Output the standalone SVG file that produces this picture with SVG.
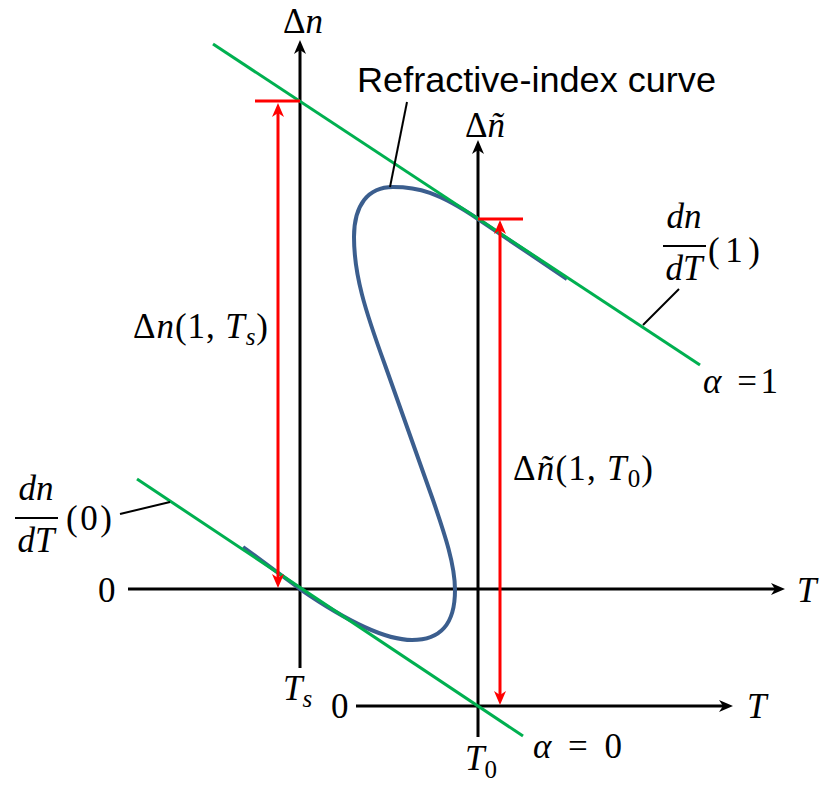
<svg xmlns="http://www.w3.org/2000/svg" width="820" height="791" viewBox="0 0 820 791">
<style>
.ax{stroke:#000;stroke-width:3;fill:none}
.gr{stroke:#00B050;stroke-width:3;fill:none}
.rd{stroke:#FF0000;stroke-width:3;fill:none}
.cv{stroke:#3B5E8E;stroke-width:4;fill:none;stroke-linejoin:round}
.ld{stroke:#000;stroke-width:2;fill:none}
.m{font-family:"Liberation Serif","DejaVu Serif",serif;font-size:35px;fill:#000}
.i{font-style:italic}
.s{font-family:"Liberation Sans",Arial,sans-serif;font-size:35px;fill:#000}
</style>
<defs>
<marker id="ab" viewBox="0 0 14 12" markerWidth="14" markerHeight="12" refX="6" refY="6" orient="auto" markerUnits="userSpaceOnUse"><path d="M0,0 L14,6 L0,12 L4,6 z" fill="#000"/></marker>
<marker id="ar" viewBox="0 0 14 12" markerWidth="14" markerHeight="12" refX="6" refY="6" orient="auto-start-reverse" markerUnits="userSpaceOnUse"><path d="M0,0 L14,6 L0,12 L4,6 z" fill="#FF0000"/></marker>
</defs>
<rect width="820" height="791" fill="#fff"/>

<g id="axis-dn">
<line class="ax" x1="300" y1="668" x2="300" y2="48" marker-end="url(#ab)"/>
<text class="m" x="283" y="33" font-size="31">Δ<tspan class="i">n</tspan></text>
</g>
<g id="axis-T-main">
<line class="ax" x1="128" y1="589" x2="777" y2="589" marker-end="url(#ab)"/>
<text class="m" x="98" y="602">0</text>
<text class="m i" x="797" y="602">T</text>
<text class="m i" x="283" y="700">T<tspan font-size="25" dy="7">s</tspan></text>
</g>
<g id="axis-dn-tilde">
<line class="ax" x1="478" y1="737" x2="478" y2="148" marker-end="url(#ab)"/>
<text class="m" x="465" y="137" font-size="31">Δ<tspan class="i">ñ</tspan></text>
</g>
<g id="axis-T-second">
<line class="ax" x1="356" y1="706" x2="725" y2="706" marker-end="url(#ab)"/>
<text class="m" x="331" y="718">0</text>
<text class="m i" x="747" y="718">T</text>
<text class="m i" x="465" y="770">T<tspan font-size="25" dy="8" font-style="normal">0</tspan></text>
</g>

<g id="refractive-index-curve">
<path class="cv" d="M567,279 L478,219 C438,192 418,187 393,187 C368,187 354,205 354,237 C354,275 365,310 385,365 L433,500 C445,535 455,565 455,590 C455,625 440,640 412,640 C385,640 345,620 300,589 L243,547"/>
<text class="s" x="357" y="92" textLength="359" lengthAdjust="spacingAndGlyphs">Refractive-index curve</text>
</g>

<g id="tangent-alpha1">
<line class="gr" x1="213" y1="44" x2="700" y2="365"/>
<text class="m" x="703" y="393" textLength="75"><tspan class="i">α</tspan> =1</text>
</g>
<g id="tangent-alpha0">
<line class="gr" x1="137" y1="479" x2="523" y2="736"/>
<text class="m" x="533" y="758" textLength="89"><tspan class="i">α</tspan> = 0</text>
</g>

<g id="label-dndT1">
<text class="m i" x="684" y="228" text-anchor="middle">dn</text>
<line x1="663" y1="246" x2="706" y2="246" stroke="#000" stroke-width="2"/>
<text class="m i" x="684" y="280" text-anchor="middle">dT</text>
<text class="m" x="708" y="262" textLength="52">(1)</text>
</g>
<g id="label-dndT0">
<text class="m i" x="36" y="500" text-anchor="middle">dn</text>
<line x1="15" y1="518" x2="58" y2="518" stroke="#000" stroke-width="2"/>
<text class="m i" x="36" y="552" text-anchor="middle">dT</text>
<text class="m" x="66" y="530" textLength="46">(0)</text>
</g>
<g id="label-dn1Ts">
<text class="m" x="133" y="338" textLength="135">Δ<tspan class="i">n</tspan>(1, <tspan class="i">T</tspan><tspan class="i" font-size="25" dy="7">s</tspan><tspan dy="-7">)</tspan></text>
</g>
<g id="label-dn1T0">
<text class="m" x="513" y="480" textLength="140">Δ<tspan class="i">ñ</tspan>(1, <tspan class="i">T</tspan><tspan font-size="25" dy="7">0</tspan><tspan dy="-7">)</tspan></text>
</g>

<g id="connectors">
<line class="rd" x1="255" y1="101" x2="300" y2="101"/>
<line class="rd" x1="478" y1="219" x2="523" y2="219"/>
<line class="rd" x1="278" y1="111" x2="278" y2="580" marker-start="url(#ar)" marker-end="url(#ar)"/>
<line class="rd" x1="500" y1="228" x2="500" y2="697" marker-start="url(#ar)" marker-end="url(#ar)"/>
<line class="ld" x1="407" y1="102" x2="390" y2="187"/>
<line class="ld" x1="679" y1="289" x2="643" y2="325"/>
<line class="ld" x1="120" y1="514" x2="170" y2="502"/>
</g>
</svg>
